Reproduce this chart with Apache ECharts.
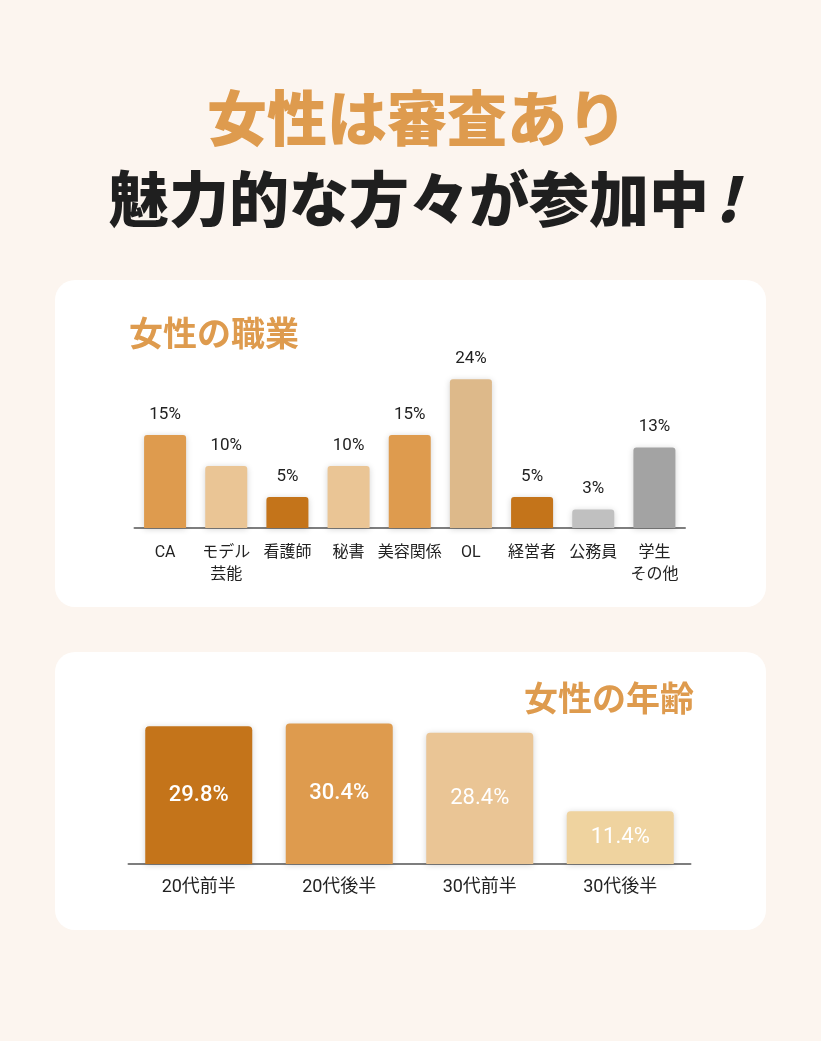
<!DOCTYPE html>
<html>
<head>
<meta charset="utf-8">
<script src="https://cdn.jsdelivr.net/npm/echarts@6/dist/echarts.min.js"></script>
<style>
  html, body { margin: 0; padding: 0; background: #fcf5ef; }
  #main { width: 821px; height: 1041px; }
</style>
</head>
<body>
<div id="main"></div>
<script>
// 職業
let jobNames = ["CA", "モデル\n芸能", "看護師", "秘書", "美容関係", "OL", "経営者", "公務員", "学生\nその他"];
let jobValues = [15, 10, 5, 10, 15, 24, 5, 3, 13];
let jobColors = ["#de9b4e", "#eac595", "#c4741a", "#eac595", "#de9b4e", "#ddb98a", "#c4741a", "#c0c0c0", "#a3a3a3"];

// 年齢
let ageNames = ["20代前半", "20代後半", "30代前半", "30代後半"];
let ageValues = [29.8, 30.4, 28.4, 11.4];
let ageColors = ["#c4741a", "#de9b4e", "#eac595", "#efd39f"];
let ageLabelWeights = [500, 500, "normal", "normal"];

let font = "Roboto, 'Noto Sans CJK JP', sans-serif";
let jpFont = "'Noto Sans CJK JP', sans-serif";

let myChart = echarts.init(document.getElementById("main"), null, {
  renderer: "canvas",
});

let option = {
  backgroundColor: "#fcf5ef",
  animation: false,
  graphic: [
    // カード
    { type: "rect", z: -10, shape: { x: 55, y: 280, width: 711, height: 327, r: 20 }, style: { fill: "#fff" } },
    { type: "rect", z: -10, shape: { x: 55, y: 652, width: 711, height: 278, r: 20 }, style: { fill: "#fff" } },
    // 見出し
    {
      type: "text", x: 417, y: 118,
      style: { text: "女性は審査あり", fill: "#de9b4e", font: "900 60px " + jpFont, textAlign: "center", textVerticalAlign: "middle" },
    },
    {
      type: "text", x: 424, y: 199,
      style: {
        text: "{a|魅力的な方々が参加中}{b|!}",
        textAlign: "center", textVerticalAlign: "middle",
        rich: {
          a: { fill: "#1f1f1f", font: "900 60px " + jpFont },
          b: { fill: "#1f1f1f", font: "italic 900 60px " + jpFont, padding: [0, 0, 0, 6] },
        },
      },
    },
    {
      type: "text", x: 129, y: 333,
      style: { text: "女性の職業", fill: "#de9b4e", font: "bold 34px " + jpFont, textAlign: "left", textVerticalAlign: "middle" },
    },
    {
      type: "text", x: 694, y: 698,
      style: { text: "女性の年齢", fill: "#de9b4e", font: "bold 34px " + jpFont, textAlign: "right", textVerticalAlign: "middle" },
    },
  ],
  grid: [
    { left: 134.5, width: 550.5, top: 373, height: 155 },
    { left: 128.5, width: 562, top: 716, height: 148 },
  ],
  xAxis: [
    {
      type: "category", gridIndex: 0, data: jobNames,
      axisTick: { show: false },
      axisLine: { lineStyle: { color: "#7e7e7e", width: 2 } },
      axisLabel: { color: "#222", fontSize: 16, fontFamily: font, lineHeight: 22, margin: 14, interval: 0 },
    },
    {
      type: "category", gridIndex: 1, data: ageNames,
      axisTick: { show: false },
      axisLine: { lineStyle: { color: "#7e7e7e", width: 2 } },
      axisLabel: { color: "#222", fontSize: 18, fontFamily: font, margin: 15 },
    },
  ],
  yAxis: [
    { type: "value", gridIndex: 0, min: 0, max: 25, show: false, splitLine: { show: false } },
    { type: "value", gridIndex: 1, min: 0, max: 32, show: false, splitLine: { show: false } },
  ],
  series: [
    {
      type: "bar", xAxisIndex: 0, yAxisIndex: 0, barWidth: 42, z: 1,
      data: jobValues.map((v, i) => ({ value: v, itemStyle: { color: jobColors[i] } })),
      itemStyle: { borderRadius: [3, 3, 0, 0], shadowBlur: 6, shadowColor: "rgba(0,0,0,0.18)", shadowOffsetY: 1 },
      label: { show: true, position: "top", distance: 12, formatter: "{c}%", color: "#222", fontSize: 17, fontFamily: font },
    },
    {
      type: "bar", xAxisIndex: 1, yAxisIndex: 1, barWidth: 107, z: 1,
      data: ageValues.map((v, i) => ({
        value: v,
        itemStyle: { color: ageColors[i] },
        label: { fontWeight: ageLabelWeights[i] },
      })),
      itemStyle: { borderRadius: [4, 4, 0, 0], shadowBlur: 6, shadowColor: "rgba(0,0,0,0.18)", shadowOffsetY: 1 },
      label: {
        show: true, position: "inside", color: "#fff", fontSize: 22, fontFamily: font,
        formatter: (p) => p.value.toFixed(1) + "%",
      },
    },
  ],
};

myChart.setOption(option);
</script>
</body>
</html>
